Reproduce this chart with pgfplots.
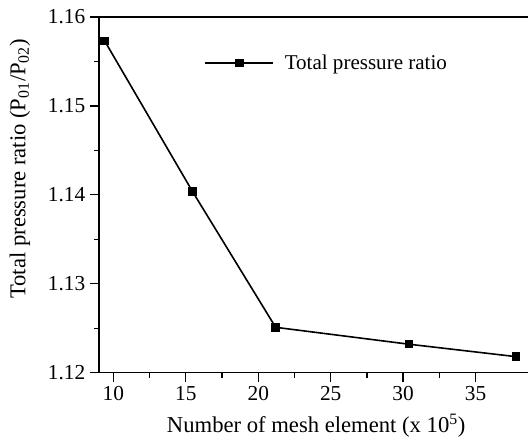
\documentclass[border=0pt]{standalone}
\usepackage{fontspec}
\setmainfont{Liberation Serif}
\usepackage{pgfplots}
\pgfplotsset{compat=1.18}
\begin{document}
\begin{tikzpicture}
\begin{axis}[
  name=ax,
  scale only axis,
  width=326.25pt, height=267pt,
  xmin=9, xmax=39, ymin=1.12, ymax=1.16,
  xtick={10,15,20,25,30,35},
  ytick={1.12,1.13,1.14,1.15,1.16},
  minor x tick num=1, minor y tick num=1,
  tick align=outside, xtick pos=bottom, ytick pos=left,
  major tick length=6.75pt, minor tick length=3.75pt,
  every tick/.style={black, line width=1pt},
  axis line style={line width=1.2pt},
  /pgf/number format/assume math mode=true,
  yticklabel style={/pgf/number format/fixed, /pgf/number format/fixed zerofill, /pgf/number format/precision=2},
  ticklabel style={font=\fontsize{16}{19}\selectfont},
  xlabel={Number of mesh element (x 10\textsuperscript{5})},
  ylabel={Total pressure ratio (P\textsubscript{01}/P\textsubscript{02})},
  label style={font=\fontsize{17}{20}\selectfont},
  xlabel style={at={(axis description cs:0.5,-0.1685)}, anchor=base},
  ylabel style={at={(axis description cs:-0.1816,0.573)}, anchor=center},
  legend style={draw=none, fill=none, at={(0.2425,0.871)}, anchor=west,
    inner xsep=0pt, font=\fontsize{15.8}{19}\selectfont},
  legend image code/.code={%
    \draw[#1, mark repeat=2, mark phase=2] plot coordinates {(0pt,0pt) (25.5pt,0pt) (51pt,0pt)};},
]
\addplot[black, line width=1.2pt, mark=square*, mark size=2.6pt,
  mark options={solid}] coordinates {
  (9.4,1.1573) (15.45,1.1404) (21.2,1.1251) (30.4,1.1232) (37.8,1.1218)
};
\addlegendentry{\hspace{6pt}Total pressure ratio}
\end{axis}
\pgfresetboundingbox
\useasboundingbox ([shift={(-74.25pt,-51pt)}]ax.south west) rectangle ([shift={(-4.15pt,12.75pt)}]ax.north east);
\end{tikzpicture}
\end{document}
